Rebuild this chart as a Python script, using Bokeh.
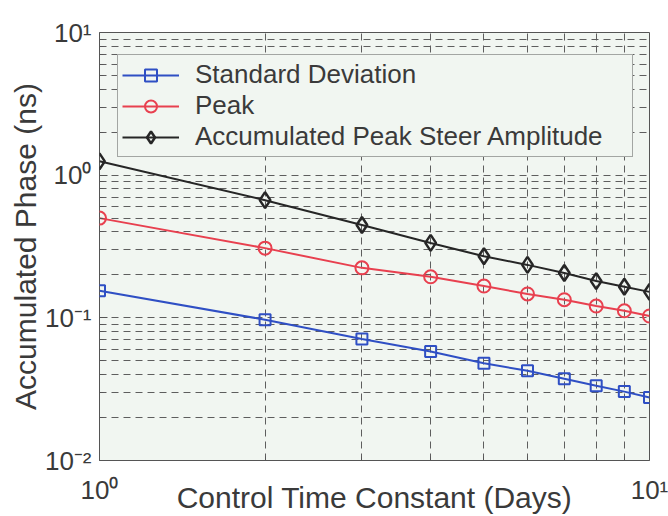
from bokeh.plotting import figure
from bokeh.models import (FixedTicker, CustomJSTickFormatter, Legend,
                          LegendItem, ColumnDataSource)
from bokeh.embed import file_html
from bokeh.resources import INLINE

# ---- data ----
days = [1, 2, 3, 4, 5, 6, 7, 8, 9, 10]
std_dev = [0.155, 0.097, 0.071, 0.058, 0.048, 0.0425, 0.0374, 0.0334, 0.0304, 0.0276]
peak = [0.50, 0.308, 0.224, 0.194, 0.167, 0.147, 0.134, 0.121, 0.112, 0.103]
steer_amp = [1.25, 0.668, 0.447, 0.335, 0.270, 0.235, 0.206, 0.181, 0.165, 0.152]

x_major = [1, 10]
y_major = [0.01, 0.1, 1, 10]
series_names = ["Standard Deviation", "Peak", "Accumulated Peak Steer Amplitude"]
x_title = "Control Time Constant (Days)"
y_title = "Accumulated Phase (ns)"

x_minor = [m * d for d in x_major[:-1] for m in range(2, 10)]
y_minor = [m * d for d in y_major[:-1] for m in range(2, 10)]

FONT = "Liberation Sans"
TXT = "#3a3a3a"
BG = "#f1f6f1"

p = figure(width=668, height=516, x_axis_type="log", y_axis_type="log",
           x_range=(1, 10), y_range=(0.01, 10),
           output_backend="svg", toolbar_location=None,
           min_border_left=99, min_border_right=19,
           min_border_top=32, min_border_bottom=55,
           background_fill_color=BG, border_fill_color="white")

p.outline_line_color = "#555555"
p.outline_line_width = 1

sup = CustomJSTickFormatter(code="""
const m = {'-':'\u207b','0':'\u2070','1':'\u00b9','2':'\u00b2','3':'\u00b3'};
const e = Math.round(Math.log10(tick)).toString();
let s = '';
for (const c of e) s += m[c];
return '10' + s;
""")

for ax, maj, mnr in ((p.xaxis[0], x_major, x_minor), (p.yaxis[0], y_major, y_minor)):
    ax.ticker = FixedTicker(ticks=maj, minor_ticks=mnr)
    ax.formatter = sup
    ax.major_label_text_font = FONT
    ax.major_label_text_font_size = "26px"
    ax.major_label_text_color = TXT
    ax.axis_line_color = None
    ax.major_tick_in = 8
    ax.major_tick_out = 0
    ax.minor_tick_in = 4
    ax.minor_tick_out = 0
    ax.major_tick_line_color = "#555555"
    ax.minor_tick_line_color = "#555555"
    ax.axis_label_text_font = FONT
    ax.axis_label_text_font_size = "30px"
    ax.axis_label_text_font_style = "normal"
    ax.axis_label_text_color = TXT

p.xaxis.major_label_standoff = 14
p.yaxis.major_label_standoff = 8

p.yaxis.axis_label = y_title
p.yaxis.axis_label_standoff = 0

p.xaxis.axis_label = x_title
p.xaxis.axis_label_standoff = -27

for g in (p.xgrid[0], p.ygrid[0]):
    g.grid_line_color = "#5e5e5e"
    g.grid_line_dash = "7 5"
    g.grid_line_width = 1
    g.minor_grid_line_color = "#5e5e5e"
    g.minor_grid_line_dash = "7 5"
    g.minor_grid_line_width = 1

src = ColumnDataSource(dict(days=days, std_dev=std_dev, peak=peak, steer=steer_amp))

blue, red, black = "#2f4fc4", "#e8404f", "#262626"
l1 = p.line("days", "std_dev", source=src, color=blue, line_width=2)
m1 = p.scatter("days", "std_dev", source=src, marker="square", size=11,
               line_color=blue, fill_color=None, line_width=2)
l2 = p.line("days", "peak", source=src, color=red, line_width=2)
m2 = p.scatter("days", "peak", source=src, marker="circle", size=13,
               line_color=red, fill_color=None, line_width=2)
l3 = p.line("days", "steer", source=src, color=black, line_width=2)
m3 = p.scatter("days", "steer", source=src, marker="diamond", size=16,
               line_color=black, fill_color=None, line_width=2.5)

legend = Legend(items=[LegendItem(label=series_names[0], renderers=[l1, m1]),
                       LegendItem(label=series_names[1], renderers=[l2, m2]),
                       LegendItem(label=series_names[2], renderers=[l3, m3])],
                location=(18, 303), orientation="vertical",
                label_text_font=FONT, label_text_font_size="26px",
                label_text_color=TXT, padding=4, spacing=0,
                glyph_width=57, glyph_height=30, label_height=30,
                label_standoff=16, label_width=433,
                border_line_color="#555555", border_line_width=1,
                background_fill_color=BG, background_fill_alpha=1.0,
                margin=0)
p.add_layout(legend, "center")

open("out.html", "w").write(file_html(p, INLINE))
